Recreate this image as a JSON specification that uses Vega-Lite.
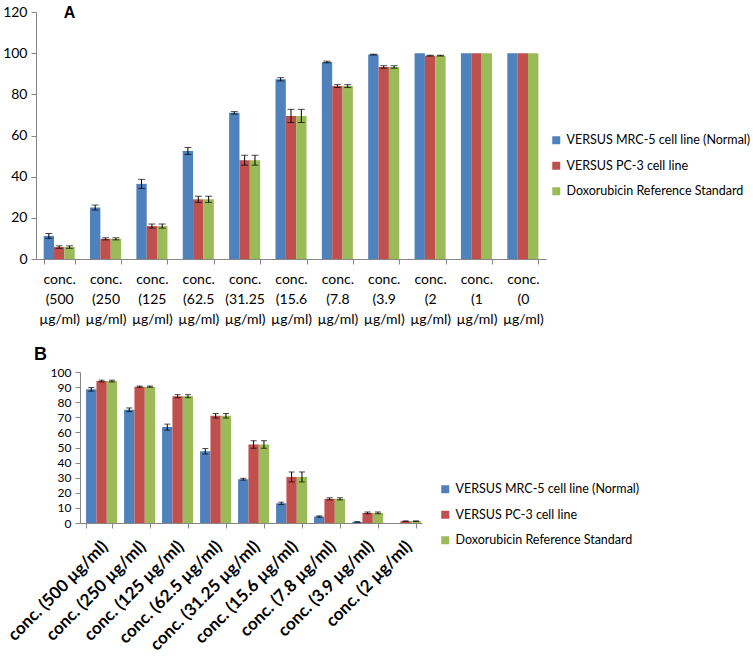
{
  "$schema": "https://vega.github.io/schema/vega-lite/v6.json",
  "padding": {"left": 2, "top": 4, "right": 0, "bottom": 0},
  "datasets": {
    "A": [
      {"conc": "conc. (500 µg/ml)", "series": "VERSUS MRC-5 cell line (Normal)", "value": 11.2, "lo": 10.0, "hi": 12.4},
      {"conc": "conc. (500 µg/ml)", "series": "VERSUS PC-3 cell line", "value": 5.8, "lo": 5.2, "hi": 6.4},
      {"conc": "conc. (500 µg/ml)", "series": "Doxorubicin Reference Standard", "value": 5.8, "lo": 5.2, "hi": 6.4},
      {"conc": "conc. (250 µg/ml)", "series": "VERSUS MRC-5 cell line (Normal)", "value": 25.0, "lo": 23.8, "hi": 26.2},
      {"conc": "conc. (250 µg/ml)", "series": "VERSUS PC-3 cell line", "value": 9.8, "lo": 9.3, "hi": 10.3},
      {"conc": "conc. (250 µg/ml)", "series": "Doxorubicin Reference Standard", "value": 9.8, "lo": 9.3, "hi": 10.3},
      {"conc": "conc. (125 µg/ml)", "series": "VERSUS MRC-5 cell line (Normal)", "value": 36.5, "lo": 34.3, "hi": 38.7},
      {"conc": "conc. (125 µg/ml)", "series": "VERSUS PC-3 cell line", "value": 16.0, "lo": 15.0, "hi": 17.0},
      {"conc": "conc. (125 µg/ml)", "series": "Doxorubicin Reference Standard", "value": 16.0, "lo": 15.0, "hi": 17.0},
      {"conc": "conc. (62.5 µg/ml)", "series": "VERSUS MRC-5 cell line (Normal)", "value": 52.5, "lo": 50.8, "hi": 54.2},
      {"conc": "conc. (62.5 µg/ml)", "series": "VERSUS PC-3 cell line", "value": 29.0, "lo": 27.5, "hi": 30.5},
      {"conc": "conc. (62.5 µg/ml)", "series": "Doxorubicin Reference Standard", "value": 29.0, "lo": 27.5, "hi": 30.5},
      {"conc": "conc. (31.25 µg/ml)", "series": "VERSUS MRC-5 cell line (Normal)", "value": 71.0, "lo": 70.4, "hi": 71.6},
      {"conc": "conc. (31.25 µg/ml)", "series": "VERSUS PC-3 cell line", "value": 48.0, "lo": 45.6, "hi": 50.4},
      {"conc": "conc. (31.25 µg/ml)", "series": "Doxorubicin Reference Standard", "value": 48.0, "lo": 45.6, "hi": 50.4},
      {"conc": "conc. (15.6 µg/ml)", "series": "VERSUS MRC-5 cell line (Normal)", "value": 87.3, "lo": 86.5, "hi": 88.1},
      {"conc": "conc. (15.6 µg/ml)", "series": "VERSUS PC-3 cell line", "value": 69.5, "lo": 66.3, "hi": 72.7},
      {"conc": "conc. (15.6 µg/ml)", "series": "Doxorubicin Reference Standard", "value": 69.5, "lo": 66.3, "hi": 72.7},
      {"conc": "conc. (7.8 µg/ml)", "series": "VERSUS MRC-5 cell line (Normal)", "value": 95.7, "lo": 95.3, "hi": 96.1},
      {"conc": "conc. (7.8 µg/ml)", "series": "VERSUS PC-3 cell line", "value": 84.0, "lo": 83.3, "hi": 84.7},
      {"conc": "conc. (7.8 µg/ml)", "series": "Doxorubicin Reference Standard", "value": 84.0, "lo": 83.3, "hi": 84.7},
      {"conc": "conc. (3.9 µg/ml)", "series": "VERSUS MRC-5 cell line (Normal)", "value": 99.3, "lo": 99.1, "hi": 99.5},
      {"conc": "conc. (3.9 µg/ml)", "series": "VERSUS PC-3 cell line", "value": 93.3, "lo": 92.7, "hi": 93.9},
      {"conc": "conc. (3.9 µg/ml)", "series": "Doxorubicin Reference Standard", "value": 93.3, "lo": 92.7, "hi": 93.9},
      {"conc": "conc. (2 µg/ml)", "series": "VERSUS MRC-5 cell line (Normal)", "value": 100},
      {"conc": "conc. (2 µg/ml)", "series": "VERSUS PC-3 cell line", "value": 98.8, "lo": 98.6, "hi": 99.0},
      {"conc": "conc. (2 µg/ml)", "series": "Doxorubicin Reference Standard", "value": 98.8, "lo": 98.6, "hi": 99.0},
      {"conc": "conc. (1 µg/ml)", "series": "VERSUS MRC-5 cell line (Normal)", "value": 100},
      {"conc": "conc. (1 µg/ml)", "series": "VERSUS PC-3 cell line", "value": 100},
      {"conc": "conc. (1 µg/ml)", "series": "Doxorubicin Reference Standard", "value": 100},
      {"conc": "conc. (0 µg/ml)", "series": "VERSUS MRC-5 cell line (Normal)", "value": 100},
      {"conc": "conc. (0 µg/ml)", "series": "VERSUS PC-3 cell line", "value": 100},
      {"conc": "conc. (0 µg/ml)", "series": "Doxorubicin Reference Standard", "value": 100}
    ],
    "B": [
      {"conc": "conc. (500 µg/ml)", "series": "VERSUS MRC-5 cell line (Normal)", "value": 88.5, "lo": 87.3, "hi": 89.7},
      {"conc": "conc. (500 µg/ml)", "series": "VERSUS PC-3 cell line", "value": 94.0, "lo": 93.4, "hi": 94.6},
      {"conc": "conc. (500 µg/ml)", "series": "Doxorubicin Reference Standard", "value": 94.0, "lo": 93.4, "hi": 94.6},
      {"conc": "conc. (250 µg/ml)", "series": "VERSUS MRC-5 cell line (Normal)", "value": 75.0, "lo": 73.8, "hi": 76.2},
      {"conc": "conc. (250 µg/ml)", "series": "VERSUS PC-3 cell line", "value": 90.3, "lo": 89.9, "hi": 90.7},
      {"conc": "conc. (250 µg/ml)", "series": "Doxorubicin Reference Standard", "value": 90.3, "lo": 89.9, "hi": 90.7},
      {"conc": "conc. (125 µg/ml)", "series": "VERSUS MRC-5 cell line (Normal)", "value": 63.5, "lo": 61.5, "hi": 65.5},
      {"conc": "conc. (125 µg/ml)", "series": "VERSUS PC-3 cell line", "value": 84.0, "lo": 83.0, "hi": 85.0},
      {"conc": "conc. (125 µg/ml)", "series": "Doxorubicin Reference Standard", "value": 84.0, "lo": 83.0, "hi": 85.0},
      {"conc": "conc. (62.5 µg/ml)", "series": "VERSUS MRC-5 cell line (Normal)", "value": 47.5, "lo": 45.7, "hi": 49.3},
      {"conc": "conc. (62.5 µg/ml)", "series": "VERSUS PC-3 cell line", "value": 71.0, "lo": 69.5, "hi": 72.5},
      {"conc": "conc. (62.5 µg/ml)", "series": "Doxorubicin Reference Standard", "value": 71.0, "lo": 69.5, "hi": 72.5},
      {"conc": "conc. (31.25 µg/ml)", "series": "VERSUS MRC-5 cell line (Normal)", "value": 29.0, "lo": 28.4, "hi": 29.6},
      {"conc": "conc. (31.25 µg/ml)", "series": "VERSUS PC-3 cell line", "value": 52.0, "lo": 49.5, "hi": 54.5},
      {"conc": "conc. (31.25 µg/ml)", "series": "Doxorubicin Reference Standard", "value": 52.0, "lo": 49.5, "hi": 54.5},
      {"conc": "conc. (15.6 µg/ml)", "series": "VERSUS MRC-5 cell line (Normal)", "value": 13.0, "lo": 12.2, "hi": 13.8},
      {"conc": "conc. (15.6 µg/ml)", "series": "VERSUS PC-3 cell line", "value": 30.5, "lo": 27.2, "hi": 33.8},
      {"conc": "conc. (15.6 µg/ml)", "series": "Doxorubicin Reference Standard", "value": 30.5, "lo": 27.2, "hi": 33.8},
      {"conc": "conc. (7.8 µg/ml)", "series": "VERSUS MRC-5 cell line (Normal)", "value": 4.3, "lo": 3.9, "hi": 4.7},
      {"conc": "conc. (7.8 µg/ml)", "series": "VERSUS PC-3 cell line", "value": 16.0, "lo": 15.3, "hi": 16.7},
      {"conc": "conc. (7.8 µg/ml)", "series": "Doxorubicin Reference Standard", "value": 16.0, "lo": 15.3, "hi": 16.7},
      {"conc": "conc. (3.9 µg/ml)", "series": "VERSUS MRC-5 cell line (Normal)", "value": 0.7, "lo": 0.5, "hi": 0.9},
      {"conc": "conc. (3.9 µg/ml)", "series": "VERSUS PC-3 cell line", "value": 6.7, "lo": 6.1, "hi": 7.3},
      {"conc": "conc. (3.9 µg/ml)", "series": "Doxorubicin Reference Standard", "value": 6.7, "lo": 6.1, "hi": 7.3},
      {"conc": "conc. (2 µg/ml)", "series": "VERSUS MRC-5 cell line (Normal)", "value": 0},
      {"conc": "conc. (2 µg/ml)", "series": "VERSUS PC-3 cell line", "value": 1.2, "lo": 1.0, "hi": 1.4},
      {"conc": "conc. (2 µg/ml)", "series": "Doxorubicin Reference Standard", "value": 1.2, "lo": 1.0, "hi": 1.4}
    ]
  },
  "config": {
    "view": {"stroke": null},
    "font": "Lato",
    "axis": {
      "grid": false,
      "domainColor": "#868686",
      "tickColor": "#868686",
      "tickSize": 5,
      "labelColor": "#000000",
      "labelFont": "Lato"
    },
    "legend": {
      "labelFont": "Lato",
      "labelColor": "#000000",
      "labelLimit": 400,
      "labelFontSize": 12.5,
      "labelOffset": 4,
      "symbolType": "square",
      "symbolSize": 64,
      "symbolStrokeWidth": 0,
      "symbolOpacity": 1,
      "rowPadding": 12.5,
      "padding": 0
    }
  },
  "resolve": {"scale": {"color": "independent"}, "legend": {"color": "independent"}},
  "spacing": 19,
  "vconcat": [
    {
      "data": {"name": "A"},
      "width": 510,
      "height": 247,
      "encoding": {
        "x": {
          "field": "conc", "type": "nominal", "sort": null,
          "scale": {"paddingInner": 0.33, "paddingOuter": 0.165},
          "axis": {
            "title": null, "labelAngle": 0, "tickBand": "extent",
            "labelExpr": "split(datum.label, ' ')",
            "labelFontSize": 14, "labelLineHeight": 20, "labelPadding": 8, "labelBaseline": "top"
          }
        },
        "xOffset": {
          "field": "series", "type": "nominal",
          "scale": {"domain": ["VERSUS MRC-5 cell line (Normal)", "VERSUS PC-3 cell line", "Doxorubicin Reference Standard"]}
        }
      },
      "layer": [
        {
          "mark": {"type": "bar"},
          "encoding": {
            "y": {
              "field": "value", "type": "quantitative",
              "scale": {"domain": [0, 120], "nice": false},
              "axis": {
                "values": [0, 20, 40, 60, 80, 100, 120], "labelFontSize": 14, "labelPadding": 4, "labelOverlap": false,
                "minExtent": 34, "title": "A", "titleAngle": 0, "titleX": 33, "titleY": 0,
                "titleAlign": "center", "titleBaseline": "middle", "titleFont": "Liberation Sans",
                "titleFontSize": 16, "titleFontWeight": "bold", "titleColor": "#000000"
              }
            },
            "color": {
              "field": "series", "type": "nominal",
              "scale": {
                "domain": ["VERSUS MRC-5 cell line (Normal)", "VERSUS PC-3 cell line", "Doxorubicin Reference Standard"],
                "range": ["#4F81BD", "#C0504D", "#9BBB59"]
              },
              "legend": {"title": null, "orient": "none", "legendX": 514, "legendY": 122}
            }
          }
        },
        {
          "mark": {"type": "rule", "color": "#000000", "strokeWidth": 1},
          "encoding": {
            "y": {"field": "lo", "type": "quantitative",
              "axis": {
                "values": [0, 20, 40, 60, 80, 100, 120], "labelFontSize": 14, "labelPadding": 4, "labelOverlap": false,
                "minExtent": 34, "title": "A", "titleAngle": 0, "titleX": 33, "titleY": 0,
                "titleAlign": "center", "titleBaseline": "middle", "titleFont": "Liberation Sans",
                "titleFontSize": 16, "titleFontWeight": "bold", "titleColor": "#000000"
              }},
            "y2": {"field": "hi"}
          }
        },
        {
          "mark": {"type": "tick", "color": "#000000", "thickness": 1, "size": 7},
          "encoding": {"y": {"field": "lo", "type": "quantitative",
              "axis": {
                "values": [0, 20, 40, 60, 80, 100, 120], "labelFontSize": 14, "labelPadding": 4, "labelOverlap": false,
                "minExtent": 34, "title": "A", "titleAngle": 0, "titleX": 33, "titleY": 0,
                "titleAlign": "center", "titleBaseline": "middle", "titleFont": "Liberation Sans",
                "titleFontSize": 16, "titleFontWeight": "bold", "titleColor": "#000000"
              }}}
        },
        {
          "mark": {"type": "tick", "color": "#000000", "thickness": 1, "size": 7},
          "encoding": {"y": {"field": "hi", "type": "quantitative",
              "axis": {
                "values": [0, 20, 40, 60, 80, 100, 120], "labelFontSize": 14, "labelPadding": 4, "labelOverlap": false,
                "minExtent": 34, "title": "A", "titleAngle": 0, "titleX": 33, "titleY": 0,
                "titleAlign": "center", "titleBaseline": "middle", "titleFont": "Liberation Sans",
                "titleFontSize": 16, "titleFontWeight": "bold", "titleColor": "#000000"
              }}}
        }
      ]
    },
    {
      "bounds": "flush",
      "spacing": 0,
      "hconcat": [
        {
          "data": {"values": []},
          "width": 44,
          "height": 1,
          "mark": {"type": "point", "opacity": 0}
        },
        {
          "data": {"name": "B"},
          "width": 342,
          "height": 151,
          "encoding": {
            "x": {
              "field": "conc", "type": "nominal", "sort": null,
              "scale": {"paddingInner": 0.32, "paddingOuter": 0.16},
              "axis": {
                "title": null, "labelAngle": -45, "tickBand": "extent",
                "labelFontSize": 17, "labelFontWeight": "bold", "labelPadding": 10
              }
            },
            "xOffset": {
              "field": "series", "type": "nominal",
              "scale": {"domain": ["VERSUS MRC-5 cell line (Normal)", "VERSUS PC-3 cell line", "Doxorubicin Reference Standard"]}
            }
          },
          "layer": [
            {
              "mark": {"type": "bar"},
              "encoding": {
                "y": {
                  "field": "value", "type": "quantitative",
                  "scale": {"domain": [0, 100], "nice": false},
                  "axis": {
                    "values": [0, 10, 20, 30, 40, 50, 60, 70, 80, 90, 100], "labelFontSize": 12, "labelPadding": 4, "labelOverlap": false,
                    "title": "B", "titleAngle": 0, "titleX": -40, "titleY": -18,
                    "titleAlign": "center", "titleBaseline": "middle", "titleFont": "Liberation Sans",
                    "titleFontSize": 18, "titleFontWeight": "bold", "titleColor": "#000000"
                  }
                },
                "color": {
                  "field": "series", "type": "nominal",
                  "scale": {
                    "domain": ["VERSUS MRC-5 cell line (Normal)", "VERSUS PC-3 cell line", "Doxorubicin Reference Standard"],
                    "range": ["#4F81BD", "#C0504D", "#9BBB59"]
                  },
                  "legend": {"title": null, "orient": "none", "legendX": 403, "legendY": 111}
                }
              }
            },
            {
              "mark": {"type": "rule", "color": "#000000", "strokeWidth": 1},
              "encoding": {
                "y": {"field": "lo", "type": "quantitative",
                  "axis": {
                    "values": [0, 10, 20, 30, 40, 50, 60, 70, 80, 90, 100], "labelFontSize": 12, "labelPadding": 4, "labelOverlap": false,
                    "title": "B", "titleAngle": 0, "titleX": -40, "titleY": -18,
                    "titleAlign": "center", "titleBaseline": "middle", "titleFont": "Liberation Sans",
                    "titleFontSize": 18, "titleFontWeight": "bold", "titleColor": "#000000"
                  }},
                "y2": {"field": "hi"}
              }
            },
            {
              "mark": {"type": "tick", "color": "#000000", "thickness": 1, "size": 6},
              "encoding": {"y": {"field": "lo", "type": "quantitative",
                  "axis": {
                    "values": [0, 10, 20, 30, 40, 50, 60, 70, 80, 90, 100], "labelFontSize": 12, "labelPadding": 4, "labelOverlap": false,
                    "title": "B", "titleAngle": 0, "titleX": -40, "titleY": -18,
                    "titleAlign": "center", "titleBaseline": "middle", "titleFont": "Liberation Sans",
                    "titleFontSize": 18, "titleFontWeight": "bold", "titleColor": "#000000"
                  }}}
            },
            {
              "mark": {"type": "tick", "color": "#000000", "thickness": 1, "size": 6},
              "encoding": {"y": {"field": "hi", "type": "quantitative",
                  "axis": {
                    "values": [0, 10, 20, 30, 40, 50, 60, 70, 80, 90, 100], "labelFontSize": 12, "labelPadding": 4, "labelOverlap": false,
                    "title": "B", "titleAngle": 0, "titleX": -40, "titleY": -18,
                    "titleAlign": "center", "titleBaseline": "middle", "titleFont": "Liberation Sans",
                    "titleFontSize": 18, "titleFontWeight": "bold", "titleColor": "#000000"
                  }}}
            }
          ]
        }
      ]
    }
  ]
}
